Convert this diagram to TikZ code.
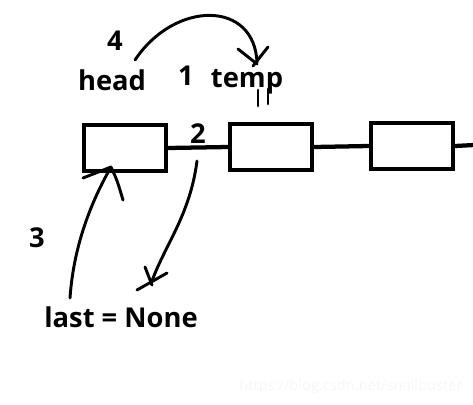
\documentclass[tikz,border=0pt]{standalone}
\usepackage{fontspec}
\setmainfont{Open Sans}
\usepackage{xcolor}
\usepackage{tikz}
\usetikzlibrary{positioning}

\tikzset{
  cell/.style={draw, line width=3pt, minimum width=61.5pt, minimum height=34.5pt, inner sep=0pt},
  link/.style={line width=3.2pt},
  hand/.style={line width=2.2pt, line cap=round, line join=round},
  lbl/.style={font=\fontsize{20.5}{22}\selectfont\bfseries, anchor=base, inner sep=0pt}
}

\begin{document}
\begin{tikzpicture}[x=0.75pt, y=-0.75pt]
\useasboundingbox (0,0) rectangle (473,404);

% linked list
\node[cell] (n1) at (125,148) {};
\node[cell] (n2) at (271,147) {};
\node[cell] (n3) at (412,146) {};
\coordinate (tail) at (474,145);
\draw[link] (n1.east) -- (n2.west);
\draw[link] (n2.east) -- (n3.west);
\draw[link] (n3.east) -- (tail);

% labels
\node[lbl] (four) at (115,50) {4};
\node[lbl] (head) at (112,90) {head};
\node[lbl] (one)  at (186,85) {1};
\node[lbl] (temp) at (247,87) {temp};
\node[lbl] (two)  at (198,143) {2};
\node[lbl] (three) at (37,247) {3};
\node[lbl] (last) at (121,327) {last = None};

% step 4: head -> temp
\coordinate (s4a) at (135,60);
\coordinate (s4b) at (257,63);
\draw[hand] (s4a) .. controls (175,0) and (255,0) .. (s4b);
\draw[hand] (238,49) -- (257,64);
\draw[hand] (268,47) -- (253,66);
\draw[hand] (258,90) -- (258,106);
\draw[hand] (268,89) -- (268,104);

% step 3: last -> first cell
\coordinate (s3a) at (70,298);
\coordinate (s3b) at (111,167);
\draw[hand] (s3a) .. controls (74,240) and (95,195) .. (s3b);
\draw[hand] (83,178) -- (s3b) .. controls (117,180) .. (123,200);

% step 2: link -> None
\coordinate (s2a) at (197,161);
\coordinate (s2b) at (152,281);
\draw[hand] (s2a) .. controls (190,215) and (165,245) .. (s2b);
\draw[hand] (145,267) -- (152,285);
\draw[hand] (137,290) -- (167,273);

% watermark
\node[anchor=base, inner sep=0pt, text=gray!6, font=\fontsize{11}{12}\selectfont] (mark) at (351,390) {https://blog.csdn.net/snailbuster};
\end{tikzpicture}
\end{document}
